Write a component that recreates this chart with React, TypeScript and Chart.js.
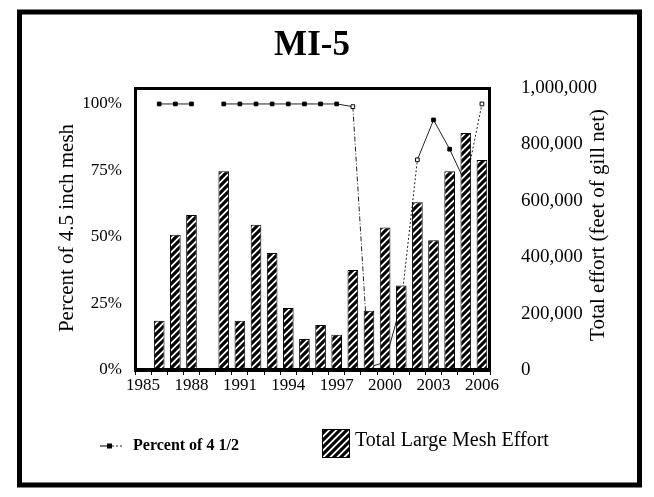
import React, { useEffect, useRef } from 'react';
import { Chart, registerables } from 'chart.js';

Chart.register(...registerables);

const years = ['1985','1986','1987','1988','1989','1990','1991','1992','1993','1994','1995','1996','1997','1998','1999','2000','2001','2002','2003','2004','2005','2006'];
const labeledYears = ['1985','1988','1991','1994','1997','2000','2003','2006'];
const effort = [null, 175000, 480000, 550000, null, 705000, 175000, 515000, 415000, 220000, 110000, 160000, 125000, 355000, 210000, 505000, 300000, 595000, 460000, 705000, 840000, 745000];
const percent = [null, 100, 100, 100, null, 100, 100, 100, 100, 100, 100, 100, 100, 99, 1, 3, 25, 79, 94, 83, 70, 100];
const percentTicks = [0, 25, 50, 75, 100];
const effortTicks = [0, 200000, 400000, 600000, 800000, 1000000];

const SERIF = '"Liberation Serif", "DejaVu Serif", serif';

function makeHatch(ctx: CanvasRenderingContext2D): CanvasPattern | string {
  const s = 7;
  const c = document.createElement('canvas');
  c.width = s; c.height = s;
  const g = c.getContext('2d');
  if (!g) return '#888';
  g.fillStyle = '#fff';
  g.fillRect(0, 0, s, s);
  g.strokeStyle = '#000';
  g.lineWidth = 3.1;
  g.beginPath();
  g.moveTo(-1, s + 1); g.lineTo(s + 1, -1);
  g.moveTo(-2, 2); g.lineTo(2, -2);
  g.moveTo(s - 2, s + 2); g.lineTo(s + 2, s - 2);
  g.stroke();
  return ctx.createPattern(c, 'repeat') || '#888';
}

export default function App() {
  const ref = useRef<HTMLCanvasElement | null>(null);
  useEffect(() => {
    document.body.style.margin = '0';
    const canvas = ref.current;
    if (!canvas) return;
    const ctx0 = canvas.getContext('2d') as CanvasRenderingContext2D;
    const hatch = makeHatch(ctx0);

    const decor = {
      id: 'decor',
      afterDatasetsDraw(chart: any) {
        const ctx = chart.ctx as CanvasRenderingContext2D;
        const a = chart.chartArea;
        ctx.save();
        ctx.strokeStyle = '#000';
        ctx.lineWidth = 3;
        ctx.beginPath();
        ctx.moveTo(a.left + 0.5, a.bottom);
        ctx.lineTo(a.left + 0.5, a.top + 0.5);
        ctx.lineTo(a.right - 0.5, a.top + 0.5);
        ctx.lineTo(a.right - 0.5, a.bottom);
        ctx.stroke();
        ctx.lineWidth = 4;
        ctx.beginPath();
        ctx.moveTo(a.left - 1, a.bottom);
        ctx.lineTo(a.right + 1, a.bottom);
        ctx.stroke();
        ctx.restore();
      },
      afterDraw(chart: any) {
        const ctx = chart.ctx as CanvasRenderingContext2D;
        ctx.save();
        ctx.strokeStyle = '#000';
        ctx.lineWidth = 5;
        ctx.strokeRect(19.5, 12, 620, 473);
        ctx.fillStyle = '#000';
        ctx.font = 'bold 35px ' + SERIF;
        ctx.textAlign = 'center';
        ctx.textBaseline = 'middle';
        ctx.fillText('MI-5', 312, 46);
        ctx.font = '21px ' + SERIF;
        ctx.save();
        ctx.translate(67, 228);
        ctx.rotate(-Math.PI / 2);
        ctx.fillText('Percent of 4.5 inch mesh', 0, 0);
        ctx.restore();
        ctx.save();
        ctx.translate(598, 225);
        ctx.rotate(-Math.PI / 2);
        ctx.fillText('Total effort (feet of gill net)', 0, 0);
        ctx.restore();
        // legend: line sample
        ctx.strokeStyle = '#222';
        ctx.lineWidth = 1.2;
        ctx.beginPath();
        ctx.moveTo(100, 446); ctx.lineTo(112, 446);
        ctx.stroke();
        ctx.setLineDash([2, 2]);
        ctx.beginPath();
        ctx.moveTo(112, 446); ctx.lineTo(123, 446);
        ctx.stroke();
        ctx.setLineDash([]);
        ctx.fillRect(107, 443.5, 5, 5);
        ctx.font = 'bold 16px ' + SERIF;
        ctx.textAlign = 'left';
        ctx.fillText('Percent of 4 1/2', 133, 446);
        // legend: hatched box
        ctx.fillStyle = hatch as any;
        ctx.fillRect(322, 429, 27, 28);
        ctx.strokeStyle = '#000';
        ctx.lineWidth = 1;
        ctx.strokeRect(322.5, 429.5, 27, 28);
        ctx.fillStyle = '#000';
        ctx.font = '20px ' + SERIF;
        ctx.fillText('Total Large Mesh Effort', 355, 441);
        ctx.restore();
      },
    };

    const openIdx = [13, 17, 21];
    const chart = new Chart(canvas, {
      type: 'bar',
      data: {
        labels: years,
        datasets: [
          {
            type: 'line',
            label: 'Percent of 4 1/2',
            data: percent,
            yAxisID: 'yL',
            order: 2,
            borderColor: '#222',
            borderWidth: 1,
            pointStyle: 'rect',
            pointRadius: 2.6,
            pointBorderWidth: 1,
            pointBorderColor: '#000',
            pointBackgroundColor: percent.map((_, i) => (openIdx.includes(i) ? '#fff' : '#000')),
            spanGaps: false,
            tension: 0,
            segment: {
              borderDash: (c: any) => {
                const i = c.p0DataIndex;
                if (i === 13) return [5, 2, 1, 2];
                if (i === 16 || i === 20) return [2, 2];
                return undefined;
              },
            },
          } as any,
          {
            type: 'bar',
            label: 'Total Large Mesh Effort',
            data: effort,
            yAxisID: 'yR',
            order: 1,
            backgroundColor: hatch as any,
            borderColor: '#000',
            borderWidth: 1,
            barPercentage: 0.66,
            categoryPercentage: 1,
          } as any,
        ],
      },
      options: {
        responsive: false,
        animation: false,
        layout: { padding: { left: 0, right: 0, top: 88, bottom: 0 } },
        plugins: {
          legend: { display: false },
          title: { display: false },
          tooltip: { enabled: false },
        },
        scales: {
          x: {
            type: 'category',
            grid: { display: true, drawOnChartArea: false, drawTicks: true, tickLength: 5, color: '#000', lineWidth: 1 },
            border: { display: false },
            ticks: {
              autoSkip: false,
              maxRotation: 0,
              minRotation: 0,
              padding: 0,
              color: '#000',
              font: { family: SERIF, size: 17 },
              callback: (_v: any, i: number) => (labeledYears.includes(years[i]) ? years[i] : ''),
            },
            afterFit: (s: any) => { s.height = 127; },
          },
          yL: {
            type: 'linear',
            position: 'left',
            min: 0,
            max: 106,
            afterBuildTicks: (s: any) => { s.ticks = percentTicks.map((v) => ({ value: v })); },
            grid: { display: false, drawTicks: false },
            border: { display: false },
            ticks: {
              padding: 13,
              color: '#000',
              font: { family: SERIF, size: 17 },
              callback: (v: any) => v + '%',
            },
            afterFit: (s: any) => { s.width = 135; },
          },
          yR: {
            type: 'linear',
            position: 'right',
            min: 0,
            max: 1000000,
            afterBuildTicks: (s: any) => { s.ticks = effortTicks.map((v) => ({ value: v })); },
            grid: { display: false, drawTicks: false },
            border: { display: false },
            ticks: {
              padding: 31,
              color: '#000',
              font: { family: SERIF, size: 19 },
              callback: (v: any) => Number(v).toLocaleString('en-US'),
            },
            afterFit: (s: any) => { s.width = 164; },
          },
        },
      },
      plugins: [decor],
    });
    return () => chart.destroy();
  }, []);

  return (
    <div style={{ width: 654, height: 497, background: '#fff' }}>
      <canvas ref={ref} width={654} height={497} style={{ width: 654, height: 497, display: 'block' }} />
    </div>
  );
}
